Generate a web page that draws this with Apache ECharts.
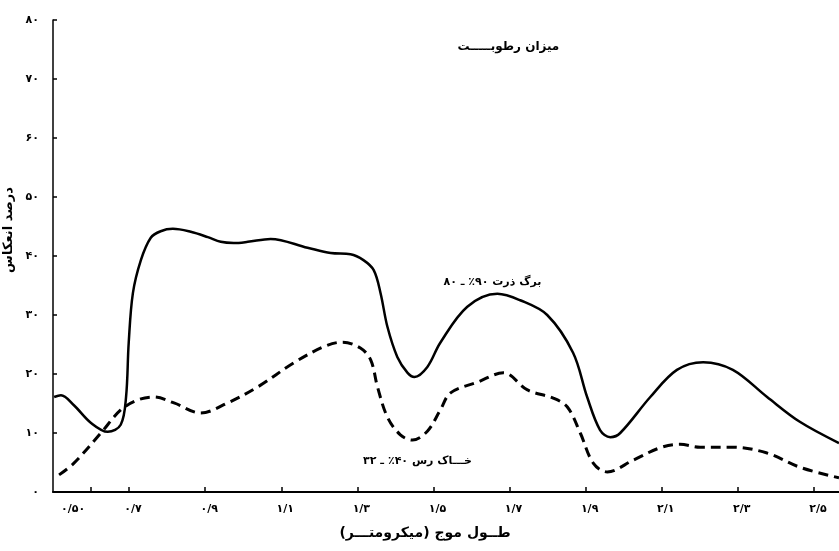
<!DOCTYPE html>
<html>
<head>
<meta charset="utf-8">
<script src="https://cdn.jsdelivr.net/npm/echarts@6/dist/echarts.min.js"></script>
<style>html,body{margin:0;padding:0;background:#fff;}#c{width:839px;height:551px;}</style>
</head>
<body>
<div id="c"></div>
<script>
// Wavelength (micrometre) and reflectance (%)
var leafX = [0.503,0.521,0.555,0.600,0.644,0.678,0.692,0.699,0.710,0.731,0.757,0.783,0.815,0.862,0.907,0.941,0.975,1.012,1.072,1.169,1.230,1.282,1.316,1.343,1.361,1.379,1.405,1.432,1.450,1.484,1.518,1.589,1.668,1.728,1.799,1.867,1.904,1.938,1.965,1.991,2.070,2.140,2.209,2.287,2.377,2.463,2.566];
var leafY = [16.1,16.4,14.7,11.7,10.2,11.4,16.1,25.3,33.7,39.3,43.1,44.2,44.6,44.1,43.2,42.4,42.2,42.4,42.9,41.4,40.5,40.3,39.3,37.6,33.7,28.0,22.9,20.2,19.5,21.2,25.3,31.4,33.6,32.5,30.0,23.6,16.1,10.5,9.3,10.0,16.1,20.7,22.0,20.7,16.1,11.9,8.3];
var clayX = [0.516,0.555,0.626,0.678,0.723,0.765,0.818,0.888,0.959,1.038,1.133,1.211,1.261,1.308,1.335,1.353,1.379,1.413,1.445,1.484,1.518,1.545,1.615,1.684,1.747,1.815,1.852,1.886,1.920,1.957,2.025,2.096,2.148,2.201,2.287,2.377,2.463,2.566];
var clayY = [2.9,4.9,10.0,13.9,15.6,16.1,15.1,13.4,15.1,17.8,21.9,24.6,25.4,24.4,22.4,17.8,12.7,9.7,8.8,10.3,13.9,16.8,18.6,20.2,17.3,15.9,14.4,10.0,4.9,3.4,5.4,7.5,8.1,7.6,7.6,6.6,4.2,2.4];

var xLabelValues = [0.5,0.7,0.9,1.1,1.3,1.5,1.7,1.9,2.1,2.3,2.5];
var xLabelTexts = ["۰/۵۰","۰/۷","۰/۹","۱/۱","۱/۳","۱/۵","۱/۷","۱/۹","۲/۱","۲/۳","۲/۵"];
var xTickValues = [0.6,0.7,0.9,1.1,1.3,1.5,1.7,1.9,2.1,2.3,2.5];
var yTickValues = [0,10,20,30,40,50,60,70,80];
var yTickTexts = ["۰","۱۰","۲۰","۳۰","۴۰","۵۰","۶۰","۷۰","۸۰"];

var titleText = "میزان رطوبـــــت";
var leafName = "برگ ذرت ۹۰٪ ـ ۸۰";
var clayName = "خـــاک رس ۴۰٪ ـ ۳۲";
var xName = "طــول موج (میکرومتـــر)";
var yName = "درصد انعکاس";

function pairs(xs, ys){ return xs.map(function(x,i){ return [x, ys[i]]; }); }

var FONT = "DejaVu Sans";
var chart = echarts.init(document.getElementById('c'), null, {renderer:'canvas'});
chart.setOption({
  backgroundColor:'#fff',
  animation:false,
  grid:{left:53, right:0, top:20, bottom:59, containLabel:false, outerBoundsMode:'none'},
  xAxis:{
    type:'value', min:0.5, max:2.566,
    name:xName, nameLocation:'middle', nameGap:34,
    nameTextStyle:{fontFamily:FONT, fontSize:14, fontWeight:'bold', color:'#000', padding:[0,42,0,0]},
    axisLine:{show:true, lineStyle:{color:'#000', width:2}},
    axisTick:{show:true, inside:true, length:5, customValues:xTickValues, lineStyle:{color:'#000', width:1.5}},
    axisLabel:{customValues:xLabelValues, margin:12, padding:[0,0,0,8], alignMinLabel:'left',
      fontFamily:FONT, fontSize:11, fontWeight:'bold', color:'#000',
      formatter:function(v){ var i = xLabelValues.findIndex(function(a){return Math.abs(a-v)<1e-6;}); return i>=0?xLabelTexts[i]:''; }},
    splitLine:{show:false}
  },
  yAxis:{
    type:'value', min:0, max:80, interval:10,
    name:yName, nameLocation:'middle', nameGap:34,
    nameTextStyle:{fontFamily:FONT, fontSize:13, fontWeight:'bold', color:'#000', padding:[0,0,0,52]},
    axisLine:{show:true, lineStyle:{color:'#000', width:1.5}},
    axisTick:{show:true, inside:true, length:4, lineStyle:{color:'#000', width:1.5}},
    axisLabel:{margin:14, fontFamily:FONT, fontSize:11, fontWeight:'bold', color:'#000',
      formatter:function(v){ var i = yTickValues.indexOf(v); return i>=0?yTickTexts[i]:''; }},
    splitLine:{show:false}
  },
  series:[
    {type:'line', name:leafName, data:pairs(leafX, leafY), showSymbol:false, smooth:0.35,
     lineStyle:{color:'#000', width:2.5, type:'solid'},
     markPoint:{symbol:'circle', symbolSize:0, silent:true,
       data:[
         {coord:[1.697,75.4], label:{show:true, formatter:titleText, fontFamily:FONT, fontSize:12, fontWeight:'bold', color:'#000'}},
         {coord:[1.655,35.6], label:{show:true, formatter:leafName, fontFamily:FONT, fontSize:11, fontWeight:'bold', color:'#000'}}
       ]}
    },
    {type:'line', name:clayName, data:pairs(clayX, clayY), showSymbol:false, smooth:0.35,
     lineStyle:{color:'#000', width:3, type:[10,6]},
     markPoint:{symbol:'circle', symbolSize:0, silent:true,
       data:[
         {coord:[1.458,5.3], label:{show:true, formatter:clayName, fontFamily:FONT, fontSize:11, fontWeight:'bold', color:'#000'}}
       ]}
    }
  ]
});
</script>
</body>
</html>
